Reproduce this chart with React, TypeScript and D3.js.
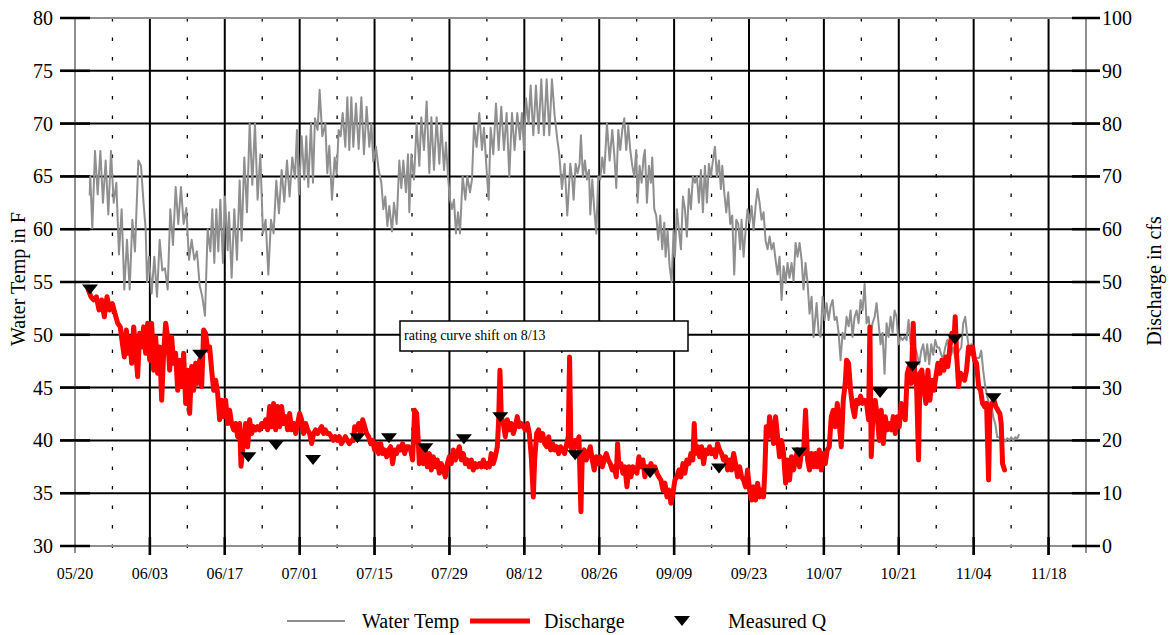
import React from 'react';
import * as d3 from 'd3';

// ---------- data ----------
const BASE = Date.UTC(2007, 4, 20); // 05/20
const DAY = 86400000;
const toDate = (d: number) => new Date(BASE + d * DAY);

const xTickLabels = ['05/20', '06/03', '06/17', '07/01', '07/15', '07/29', '08/12', '08/26', '09/09', '09/23', '10/07', '10/21', '11/04', '11/18'];
const tempTicks = [30, 35, 40, 45, 50, 55, 60, 65, 70, 75, 80];
const dischargeTicks = [0, 10, 20, 30, 40, 50, 60, 70, 80, 90, 100];

// [days since 05/20, water temperature F]
const waterTemp: [number, number][] = [
  [2.75, 63.2], [2.85, 65], [3.24, 60.1], [3.74, 67.4], [4.24, 63.3], [4.74, 67.4], [5.23, 62.5], [5.73, 66.5], [6.23, 61.4], [6.73, 67.4], [7.23, 62.5], [7.73, 64.4], [8.22, 57.6], [8.72, 61.9], [9.22, 54.3], [9.72, 59], [10.22, 54.3], [10.72, 60.9], [11.21, 57.9], [11.84, 66.5], [12.34, 66], [12.83, 62.4], [13.21, 60], [13.46, 55], [13.83, 57.4], [14.33, 53.9], [14.83, 57.4], [15.33, 53.6], [15.83, 59], [16.32, 56.1], [16.82, 56.3], [17.32, 54.3], [17.82, 61.9], [18.32, 58.5], [18.82, 64], [19.31, 60.5], [19.81, 64], [20.31, 60.5], [20.81, 62], [21.31, 57.1], [21.81, 59], [22.31, 57.1], [22.8, 57.9], [23.3, 54.7], [23.8, 53.6], [24.3, 51.8], [24.8, 60], [25.3, 57.9], [25.67, 61.9], [26.04, 56.8], [26.42, 61.9], [26.79, 57.9], [27.17, 62.8], [27.66, 56.8], [28.04, 63.1], [28.54, 58], [28.79, 61.6], [29.28, 55.4], [29.78, 61.9], [30.28, 57.1], [30.78, 64.6], [31.15, 58.9], [31.65, 66.8], [32.15, 61.6], [32.65, 70], [33.15, 64.2], [33.64, 70], [34.14, 62.8], [34.64, 67.1], [35.14, 59.6], [35.64, 60.9], [36.14, 55.7], [36.64, 60.9], [37.13, 59.6], [37.63, 64.6], [38.13, 61.5], [38.63, 65.6], [39.13, 62.6], [39.63, 66.5], [40.12, 63.1], [40.62, 66.8], [41.12, 64.8], [41.5, 69.4], [41.87, 63.3], [42.37, 68.8], [42.87, 64.7], [43.24, 68.8], [43.61, 64], [44.11, 70], [44.49, 64.4], [44.86, 70.5], [45.36, 69.4], [45.73, 73.2], [46.23, 68.8], [46.8, 70], [47.17, 65.3], [47.54, 67.9], [48.04, 62.8], [48.54, 66.8], [48.92, 65.2], [49.29, 69.4], [49.66, 68.8], [50.04, 71], [50.54, 67.8], [50.91, 72.5], [51.28, 67.5], [51.66, 72.5], [52.03, 67.8], [52.53, 71.9], [53.03, 67.6], [53.53, 72.5], [54.02, 67.1], [54.52, 71.6], [55.02, 67.8], [55.4, 70], [55.77, 66.4], [56.27, 67.8], [56.77, 65.6], [57.27, 64.4], [57.64, 61.9], [58.01, 63.1], [58.39, 60.3], [58.76, 62.2], [59.26, 59.8], [59.63, 62.5], [60.13, 60.5], [60.63, 66.5], [61, 63.9], [61.38, 66.5], [61.87, 63.5], [62.25, 67.1], [62.5, 61.6], [62.87, 67.1], [63.37, 64.7], [63.87, 70], [64.37, 66], [64.74, 70.6], [65.24, 67.5], [65.74, 72.1], [66.24, 65.3], [66.61, 70.6], [67.11, 65.6], [67.61, 70.6], [68.11, 66.2], [68.48, 70], [68.98, 65.6], [69.35, 68.2], [69.73, 65], [70.1, 62.8], [70.47, 61.9], [70.85, 62.8], [71.22, 59.6], [71.6, 61.6], [71.97, 59.6], [72.47, 65], [72.97, 62.8], [73.34, 65], [73.84, 63.5], [74.21, 64.7], [74.59, 69.8], [75.08, 67.8], [75.58, 71], [76.08, 67.5], [76.45, 69.6], [76.95, 65.6], [77.33, 62.8], [77.7, 69.6], [78.2, 67.1], [78.7, 71.9], [79.2, 67.5], [79.69, 71.6], [80.19, 67.5], [80.69, 71], [81.19, 65], [81.69, 71], [82.18, 67.5], [82.68, 71], [83.18, 68.5], [83.55, 71], [83.93, 67.5], [84.31, 72.4], [84.8, 70], [85.18, 73.6], [85.68, 68.9], [86.17, 73.6], [86.67, 69.1], [87.17, 74.2], [87.67, 68.9], [88.17, 74.2], [88.67, 68.9], [89.16, 74.2], [89.66, 70.8], [90.16, 68.5], [90.53, 67.1], [91.03, 63.8], [91.53, 66.2], [92.03, 61.3], [92.59, 66.2], [92.96, 64.7], [93.21, 62.8], [93.58, 66.2], [93.96, 65.3], [94.33, 66.2], [94.58, 68.9], [94.95, 65], [95.33, 66.5], [95.7, 64.7], [96.08, 65.6], [96.33, 61.4], [96.7, 64.7], [97.07, 61.9], [97.45, 59.6], [97.82, 65], [98.19, 64.7], [98.57, 66.8], [98.94, 65.3], [99.44, 70], [99.94, 66.5], [100.44, 69.4], [100.81, 67.1], [101.19, 63.9], [101.56, 69.4], [101.93, 67.5], [102.31, 69.4], [102.68, 70.5], [103.05, 67.5], [103.43, 69.8], [103.8, 67.5], [104.18, 66], [104.55, 65], [104.92, 67.5], [105.17, 62.5], [105.55, 66], [105.92, 64.4], [106.29, 66.8], [106.54, 67.5], [106.92, 62.5], [107.29, 66], [107.66, 64.4], [107.91, 66.8], [108.29, 61.9], [108.66, 61.3], [109.04, 59], [109.41, 61.3], [109.78, 58.1], [110.16, 60.6], [110.41, 57.4], [110.78, 59.9], [111.15, 56.5], [111.53, 55], [111.9, 59.9], [112.15, 57.4], [112.52, 61.9], [112.9, 59.9], [113.27, 58.1], [113.65, 63.1], [114.02, 61.9], [114.39, 59.3], [114.77, 63.8], [115.14, 61.9], [115.51, 65], [115.89, 64.4], [116.26, 65], [116.64, 62.5], [117.01, 65.6], [117.38, 61.6], [117.76, 66], [118.13, 62.5], [118.51, 66.2], [118.88, 65], [119.25, 66.5], [119.63, 67.8], [120, 65], [120.38, 66.5], [120.75, 63.8], [121, 66], [121.37, 63.5], [121.75, 61.6], [122.12, 63.5], [122.49, 60.5], [122.87, 61.3], [123.24, 55.7], [123.62, 60.9], [123.99, 60.5], [124.36, 58.1], [124.61, 60.9], [124.99, 57.4], [125.36, 59.9], [125.73, 61.9], [126.11, 60.6], [126.48, 62.2], [126.86, 59.9], [127.23, 62.2], [127.6, 63.8], [127.98, 62.5], [128.35, 60.9], [128.72, 61.6], [129.1, 58.9], [129.47, 58.1], [129.85, 59.3], [130.22, 58.1], [130.59, 58.7], [130.97, 57.1], [131.34, 55.7], [131.71, 57.4], [132.09, 53.3], [132.46, 56.5], [132.84, 54.9], [133.21, 56.8], [133.58, 55.4], [133.96, 56.8], [134.33, 55.1], [134.71, 58.7], [135.08, 57.4], [135.45, 58.7], [135.83, 57.1], [136.2, 54.3], [136.57, 56.8], [136.95, 54.9], [137.32, 52], [137.7, 53.6], [138.07, 49.8], [138.64, 53], [139.01, 50.2], [139.38, 49.8], [139.76, 53.6], [140.13, 51.4], [140.5, 53], [140.88, 51.4], [141.25, 52.7], [141.63, 53.3], [142, 51.4], [142.37, 51.7], [142.75, 50.2], [143.12, 47.6], [143.5, 50.2], [143.87, 49.6], [144.24, 51.7], [144.62, 50.8], [144.99, 52.3], [145.36, 49.8], [145.74, 51.7], [146.11, 52.3], [146.49, 51.1], [146.86, 53.3], [147.23, 52.3], [147.61, 54.8], [147.98, 51.1], [148.35, 51.7], [148.73, 49.9], [149.1, 51.1], [149.48, 51.7], [149.85, 53], [150.22, 51.1], [150.6, 49.1], [150.97, 50.2], [151.34, 46.3], [151.72, 51.1], [152.09, 49.8], [152.47, 51.7], [152.84, 50.2], [153.21, 52.3], [153.59, 51.7], [153.96, 49.1], [154.34, 49.8], [154.71, 49.5], [155.08, 49.8], [155.46, 49.5], [155.83, 51.4], [156.21, 49.1], [156.58, 48.5], [157.08, 48.8], [157.45, 48.1], [157.82, 47.2], [158.2, 48.5], [158.57, 49.1], [158.95, 47.5], [159.32, 49.1], [159.69, 47.2], [160.07, 49.1], [160.44, 48.1], [160.82, 49.5], [161.19, 48.8], [161.56, 48.8], [161.94, 48.1], [162.31, 47.8], [162.68, 48.8], [163.06, 49.5], [163.43, 48.8], [163.81, 48.1], [164.18, 48.8], [164.55, 47.8], [164.93, 48.1], [165.3, 48.5], [165.68, 48.8], [166.05, 51.1], [166.42, 51.7], [166.8, 49.9], [167.17, 48.5], [167.54, 49.1], [167.92, 47.5], [168.29, 47.8], [168.67, 47.8], [169.04, 47.8], [169.41, 48.5], [169.79, 46.6], [170.16, 45.1], [170.54, 44.1], [170.91, 43.5], [171.28, 43.5], [171.66, 42.2], [172.03, 41.6], [172.41, 40.3], [172.78, 40.3], [173.15, 40], [173.53, 40.2], [173.9, 39.9], [174.28, 40.2], [174.65, 40], [175.02, 40.3], [175.4, 40], [175.77, 40.3], [176.15, 40.2], [176.52, 40.6],
];

// [days since 05/20, discharge cfs]
const discharge: [number, number][] = [
  [2.49, 48.5], [2.99, 47.2], [3.49, 46.6], [3.99, 47.2], [4.49, 44.7], [4.98, 46.6], [5.48, 43.4], [5.98, 47.2], [6.48, 44.7], [6.98, 45.9], [7.48, 44], [7.98, 42.2], [8.47, 41.5], [8.85, 38.4], [9.22, 35.8], [9.6, 40.9], [9.84, 36.5], [10.22, 39.6], [10.59, 34.6], [10.97, 41.5], [11.34, 37.1], [11.71, 32.1], [12.09, 40.3], [12.46, 37.7], [12.83, 41.5], [13.21, 36.5], [13.58, 42.2], [13.96, 35.2], [14.33, 42.2], [14.7, 33.3], [15.08, 39.6], [15.45, 32.7], [15.83, 37.7], [16.2, 27.6], [16.57, 36.5], [16.95, 42.2], [17.32, 39.6], [17.69, 33.3], [18.07, 39.6], [18.44, 34.6], [18.82, 36.5], [19.19, 29.5], [19.56, 35.2], [19.94, 30.2], [20.31, 36.5], [20.69, 27], [21.06, 33.3], [21.43, 25.1], [21.81, 34], [22.18, 29.5], [22.55, 34.6], [22.93, 30.8], [23.3, 35.2], [23.68, 30.2], [24.05, 40.9], [24.42, 40.3], [24.8, 37.1], [25.17, 37.7], [25.55, 33.3], [25.92, 29.5], [26.29, 31.4], [26.67, 28.9], [27.04, 23.9], [27.41, 27.6], [27.79, 24.5], [28.16, 27.6], [28.54, 23.2], [28.91, 25.7], [29.28, 23.2], [29.66, 22], [30.03, 23.2], [30.4, 20.7], [30.78, 23.2], [31.03, 15.1], [31.53, 20], [31.9, 23.2], [32.27, 18.8], [32.65, 23.9], [33.02, 21.3], [33.4, 22.6], [33.77, 22], [34.14, 22.6], [34.52, 22], [34.89, 23.2], [35.26, 22.6], [35.64, 23.9], [36.01, 22], [36.39, 26.4], [36.76, 22.6], [37.13, 27], [37.51, 22], [37.88, 26.4], [38.26, 22.6], [38.63, 26.4], [39, 23.2], [39.38, 24.5], [39.75, 22], [40.12, 25.1], [40.5, 22], [40.87, 23.2], [41.25, 21.3], [41.62, 23.2], [41.99, 25.1], [42.37, 23.9], [42.74, 21.3], [43.12, 23.2], [43.49, 22], [43.86, 21.3], [44.24, 19.4], [44.61, 21.3], [44.98, 22], [45.36, 21.3], [45.73, 22], [46.11, 22.6], [46.48, 21.3],
  [46.8, 22], [47.17, 21.3], [47.54, 21.3], [47.92, 20.7], [48.29, 20], [48.67, 20.7], [49.04, 20], [49.41, 20.7], [49.79, 19.4], [50.16, 20], [50.54, 20.7], [50.91, 20], [51.28, 19.4], [51.66, 20], [52.03, 20], [52.28, 22.6], [52.65, 22], [53.03, 23.2], [53.4, 21.3], [53.78, 23.9], [54.15, 22.6], [54.52, 21.3], [54.9, 20.7], [55.27, 19.4], [55.64, 20], [56.02, 18.2], [56.39, 19.4], [56.77, 17.5], [57.14, 19.4], [57.51, 17.5], [57.89, 18.2], [58.26, 16.9], [58.63, 18.2], [59.01, 18.8], [59.38, 15.6], [59.76, 18.2], [60.13, 17.5], [60.5, 18.8], [60.88, 18.2], [61.25, 19.4], [61.63, 17.5], [62, 18.8], [62.37, 18.8], [62.75, 18.2], [63.12, 16.3], [63.49, 25.7], [63.87, 25.1], [64.12, 20.7], [64.37, 15.6], [64.74, 18.2], [65.11, 15.6], [65.49, 18.2], [65.86, 15], [66.24, 17.5], [66.61, 14.4], [66.98, 16.9], [67.36, 15], [67.73, 16.3], [68.11, 13.8], [68.48, 15.6], [68.85, 14.4], [69.23, 13.1], [69.6, 15.6], [69.97, 16.9], [70.35, 15.6], [70.72, 18.2], [71.1, 16.3], [71.47, 17.5], [71.84, 18.8], [72.22, 16.3], [72.59, 17.5], [72.97, 15.6], [73.34, 16.3], [73.71, 15], [74.09, 16.3], [74.46, 14.4], [74.83, 15.6], [75.21, 15], [75.58, 15.6], [75.96, 15], [76.33, 16.3], [76.7, 15], [77.08, 15.6], [77.45, 15], [77.82, 17.5], [78.2, 15.6], [78.57, 16.9], [78.95, 18.8], [79.2, 23.9], [79.44, 33.3], [79.69, 24.5], [80.07, 23.2], [80.44, 20.7], [80.82, 23.9], [81.19, 22], [81.56, 23.2], [81.94, 21.3], [82.31, 22.6], [82.68, 24.5], [83.06, 22.6], [83.43, 23.2], [83.81, 22.6], [84.18, 22], [84.55, 23.2], [84.93, 21.3], [85.3, 16.9], [85.68, 9.3], [85.93, 16.3], [86.3, 21.3], [86.67, 22], [87.05, 20], [87.42, 21.3], [87.79, 19.4], [88.17, 18.8], [88.54, 20.7], [88.92, 18.2], [89.29, 19.4], [89.66, 18.2], [90.04, 18.8], [90.41, 17.5], [90.79, 18.8], [91.16, 18.2], [91.53, 17.5],
  [92.21, 20.7], [92.46, 35.8], [92.71, 18.8], [93.09, 17.5], [93.46, 20], [93.83, 18.8], [94.21, 20.7], [94.58, 6.5], [94.83, 16.9], [95.2, 18.2], [95.58, 16.3], [95.95, 17.5], [96.33, 18.8], [96.7, 16.3], [97.07, 14.4], [97.45, 16.9], [97.82, 15.6], [98.19, 16.9], [98.57, 15], [98.94, 16.3], [99.32, 17.5], [99.69, 16.3], [100.06, 15.6], [100.44, 14.4], [100.81, 15], [101.19, 13.1], [101.43, 19.4], [101.68, 15], [102.06, 15.6], [102.43, 13.8], [102.8, 15], [103.18, 11.2], [103.55, 15], [103.93, 13.1], [104.3, 15], [104.67, 14.4], [105.05, 13.8], [105.42, 16.9], [105.8, 15], [106.17, 16.3], [106.54, 13.1], [106.92, 15], [107.29, 14.4], [107.66, 15.6], [108.04, 14.4], [108.41, 15], [108.79, 13.8], [109.16, 13.1], [109.53, 12.5], [109.91, 10.6], [110.28, 11.9], [110.66, 9.3], [111.03, 10.6], [111.4, 8.1], [111.78, 10], [112.15, 12.5], [112.52, 13.1], [112.9, 14.4], [113.27, 13.1], [113.65, 15.6], [114.02, 13.8], [114.39, 16.3], [114.77, 15.6], [115.14, 17.5], [115.51, 16.3], [115.76, 23.2], [116.01, 17.5], [116.39, 18.8], [116.76, 16.9], [117.13, 18.8], [117.51, 15.6], [117.88, 18.2], [118.26, 17.5], [118.63, 18.8], [119, 17.5], [119.38, 18.2], [119.75, 16.9], [120.12, 19.4], [120.5, 18.2], [120.87, 17.5], [121.25, 16.3], [121.62, 16.9], [121.99, 14.4], [122.37, 16.3], [122.74, 14.4], [123.12, 17.5], [123.49, 15.6], [123.86, 13.1], [124.24, 15], [124.61, 13.1], [124.98, 12.5], [125.36, 11.2], [125.73, 14.4], [126.11, 10.6], [126.48, 8.7], [126.85, 11.2], [127.23, 8.7], [127.6, 11.9], [127.98, 9.3], [128.35, 10.6], [128.72, 9.3], [128.97, 14.4], [129.22, 22.6], [129.6, 20.7], [129.85, 24.5], [130.22, 22], [130.59, 19.4], [130.97, 24.5], [131.34, 20.7], [131.71, 16.9], [132.09, 20], [132.46, 17.5], [132.84, 11.9], [133.21, 16.3], [133.58, 12.5], [133.96, 16.9], [134.33, 14.4], [134.71, 16.3], [135.08, 18.2], [135.45, 15], [135.83, 18.2], [136.2, 17.5], [136.57, 25.7], [136.95, 16.3], [137.32, 14.4], [137.7, 17.5], [138.07, 15],
  [138.39, 17.5], [138.76, 15], [139.13, 18.2], [139.51, 14.4], [139.88, 17.5], [140.26, 15.6], [140.63, 18.2], [141, 18.8], [141.38, 24.5], [141.75, 25.7], [142.12, 22.6], [142.5, 27], [142.87, 23.2], [143.25, 18.8], [143.62, 27.6], [143.99, 30.8], [144.24, 35.2], [144.62, 34.6], [144.99, 29.5], [145.36, 26.4], [145.74, 24.5], [146.11, 27.6], [146.49, 27], [146.86, 28.4], [147.23, 27], [147.61, 27.6], [147.98, 27], [148.35, 23.9], [148.6, 41.5], [148.85, 16.9], [149.23, 26.4], [149.6, 27.6], [149.97, 24.5], [150.35, 20], [150.72, 25.7], [151.1, 19.4], [151.47, 24.5], [151.84, 22], [152.22, 23.2], [152.59, 22], [152.97, 24.5], [153.34, 21.3], [153.71, 24.5], [154.09, 22.6], [154.46, 27], [154.83, 25.7], [155.21, 23.9], [155.58, 32.7], [155.96, 34], [156.33, 30.8], [156.7, 42.2], [156.95, 33.3], [157.33, 30.2], [157.7, 16.3], [157.95, 32.7], [158.32, 33.3], [158.7, 29.5], [159.07, 27], [159.45, 33.3], [159.82, 27.6], [160.19, 31.4], [160.57, 29.5], [160.94, 32.1], [161.31, 34.6], [161.69, 32.7], [162.06, 35.2], [162.44, 33.3], [162.81, 35.8], [163.18, 34], [163.56, 37.7], [163.93, 40.3], [164.31, 39], [164.55, 43.4], [164.8, 36.5], [165.18, 30.2], [165.55, 32.7], [165.93, 32.1], [166.3, 31.4], [166.67, 33.3], [167.05, 37.7], [167.42, 36.5], [167.79, 37.7], [168.17, 35.2], [168.54, 34.6], [168.92, 30.2], [169.29, 29.5], [169.66, 27], [170.04, 26.4], [170.41, 27], [170.79, 12.5], [171.03, 25.7], [171.41, 27], [171.78, 27.6], [172.16, 26.4], [172.53, 25.7], [172.9, 25.1], [173.15, 23.2], [173.4, 15.6], [173.78, 14.4],
];

// [days since 05/20, measured discharge cfs]
const measuredQ: [number, number][] = [
  [2.8, 48.6], [23.4, 36.2], [32.4, 16.8], [37.6, 19.1], [44.5, 16.3], [52.8, 20.4], [58.7, 20.4], [65.5, 18.5], [72.7, 20.2], [79.5, 24.4], [93.5, 17.2], [107.5, 13.8], [120.4, 14.7], [135.4, 17.7], [150.5, 29], [156.6, 34], [164.5, 39.1], [171.7, 28],
];

const annotation = 'rating curve shift on 8/13';

// ---------- layout ----------
const W = 1171;
const H = 635;
const L = 75, R = 1086, T = 18, B = 546;
const FONT = '"Liberation Serif", "Times New Roman", serif';
const GRAY = '#8f8f8f';

export default function App() {
  const x = d3.scaleUtc().domain([toDate(0), toDate(189)]).range([L, R]);
  const yT = d3.scaleLinear().domain([30, 80]).range([B, T]);
  const yQ = d3.scaleLinear().domain([0, 100]).range([B, T]);

  const tempLine = d3.line<[number, number]>().x(d => x(toDate(d[0]))).y(d => yT(d[1]));
  const qLine = d3.line<[number, number]>().x(d => x(toDate(d[0]))).y(d => yQ(d[1]));

  const majorDays = xTickLabels.map((_, i) => i * 14);
  const minorDays = d3.range(7, 190, 14);
  const tri = 'M-8,-5 L8,-5 L0,5 Z';

  return (
    <svg width={W} height={H} style={{ position: 'absolute', left: 0, top: 0, background: '#fff' }} fontFamily={FONT}>
      <rect x={0} y={0} width={W} height={H} fill="#fff" />
      {/* minor dotted verticals */}
      {minorDays.map(d => (
        <line key={'mn' + d} x1={x(toDate(d))} x2={x(toDate(d))} y1={T} y2={B + 6} stroke="#000" strokeWidth={1.3} strokeDasharray="3.5 16" />
      ))}
      {/* major verticals */}
      {majorDays.slice(1).map(d => (
        <line key={'mj' + d} x1={x(toDate(d))} x2={x(toDate(d))} y1={T} y2={B + 9} stroke="#000" strokeWidth={2} />
      ))}
      {/* horizontal grid */}
      {tempTicks.slice(1, -1).map(t => (
        <line key={'h' + t} x1={L - 15} x2={R + 14} y1={yT(t)} y2={yT(t)} stroke="#000" strokeWidth={2} />
      ))}
      {/* border */}
      <line x1={L} x2={R} y1={T} y2={T} stroke={GRAY} strokeWidth={2} />
      <line x1={L} x2={R} y1={B} y2={B} stroke={GRAY} strokeWidth={2} />
      <line x1={L} x2={L} y1={T} y2={B + 7} stroke={GRAY} strokeWidth={2} />
      <line x1={R} x2={R} y1={T} y2={B + 7} stroke={GRAY} strokeWidth={2} />
      {/* left ticks */}
      {tempTicks.map(t => (
        <line key={'lt' + t} x1={L - 15} x2={L + 15} y1={yT(t)} y2={yT(t)} stroke="#000" strokeWidth={2.5} />
      ))}
      {dischargeTicks.map(q => (
        <line key={'rt' + q} x1={R - 14} x2={R + 14} y1={yQ(q)} y2={yQ(q)} stroke="#000" strokeWidth={2.5} />
      ))}
      {majorDays.slice(1).map(d => (
        <line key={'bt' + d} x1={x(toDate(d))} x2={x(toDate(d))} y1={B - 9} y2={B + 9} stroke="#000" strokeWidth={2.5} />
      ))}

      {/* annotation */}
      <rect x={400} y={321} width={288} height={30} fill="#fff" stroke="#000" strokeWidth={1.5} />
      <text x={404} y={340} fontSize={14} fill="#000">{annotation}</text>

      {/* series */}
      <path d={tempLine(waterTemp) || ''} fill="none" stroke={GRAY} strokeWidth={2} strokeLinejoin="round" />
      <path d={qLine(discharge) || ''} fill="none" stroke="#ff0000" strokeWidth={5} strokeLinejoin="round" strokeLinecap="round" />
      {measuredQ.map((m, i) => (
        <path key={'m' + i} d={tri} transform={`translate(${x(toDate(m[0]))},${yQ(m[1])})`} fill="#000" />
      ))}

      {/* axis labels */}
      {tempTicks.map(t => (
        <text key={'tl' + t} x={L - 22} y={yT(t)} fontSize={20} textAnchor="end" dominantBaseline="central" fill="#000">{t}</text>
      ))}
      {dischargeTicks.map(q => (
        <text key={'ql' + q} x={R + 16} y={yQ(q)} fontSize={20} textAnchor="start" dominantBaseline="central" fill="#000">{q}</text>
      ))}
      {majorDays.map((d, i) => (
        <text key={'xl' + d} x={x(toDate(d))} y={579} fontSize={16} textAnchor="middle" fill="#000">{xTickLabels[i]}</text>
      ))}
      <text transform={`translate(25,279) rotate(-90)`} fontSize={20} textAnchor="middle" fill="#000">Water Temp in F</text>
      <text transform={`translate(1161,281) rotate(-90)`} fontSize={20} textAnchor="middle" fill="#000">Discharge in cfs</text>

      {/* legend */}
      <line x1={287} x2={345} y1={621} y2={621} stroke={GRAY} strokeWidth={2} />
      <text x={362} y={628} fontSize={20} fill="#000">Water Temp</text>
      <line x1={470} x2={530} y1={621} y2={621} stroke="#ff0000" strokeWidth={5} />
      <text x={544} y={628} fontSize={20} fill="#000">Discharge</text>
      <path d={tri} transform="translate(682,621)" fill="#000" />
      <text x={728} y={628} fontSize={20} fill="#000">Measured Q</text>
    </svg>
  );
}
